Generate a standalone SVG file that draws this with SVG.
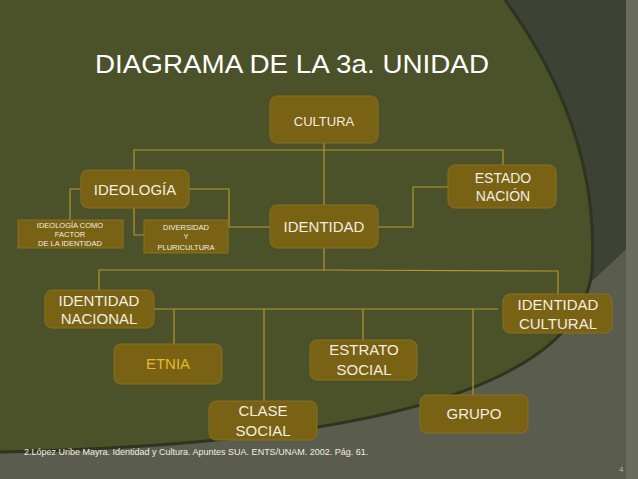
<svg xmlns="http://www.w3.org/2000/svg" width="638" height="479" viewBox="0 0 638 479">
<style>
.b{fill:#7a6214;stroke:#8a7020;stroke-width:1}
.t{font-family:"Liberation Sans",Arial,sans-serif;fill:#f2eee0;text-anchor:middle}
.c line,.c polyline{stroke:#b8952e;stroke-width:1.2;fill:none}
</style>
<rect width="638" height="479" fill="#5a5d4e"/>
<path d="M495,0 L638,0 L638,238 L540,330 Z" fill="#3d4235"/>
<rect x="626" y="0" width="12" height="479" fill="#6a6d5e"/>
<path d="M0,0 L505,0 Q600,130 592,270 Q575,440 0,452 Z" fill="#4b5229"/>
<path d="M505,0 Q600,130 592,270 Q575,440 0,452" fill="none" stroke="#2e3420" stroke-width="3"/>
<text x="292" y="73" class="t" font-size="26" textLength="394" lengthAdjust="spacingAndGlyphs" style="fill:#fff;font-family:'Liberation Sans Narrow','Liberation Sans',sans-serif">DIAGRAMA DE LA 3a. UNIDAD</text>
<g class="c">
<polyline points="324,143 324,205"/>
<polyline points="134,170 134,150 503,150 503,165"/>
<polyline points="81,189 70,189 70,220"/>
<polyline points="134,208 134,235 144,235"/>
<polyline points="189,189 229,189 229,227 270,227"/>
<polyline points="378,227 413,227 413,187 448,187"/>
<polyline points="324,248 324,270 99,270 99,290"/>
<polyline points="324,270 558,271 558,294"/>
<polyline points="154,309 498,309"/>
<polyline points="174,309 174,344"/>
<polyline points="264,309 264,401"/>
<polyline points="363,309 363,340"/>
<polyline points="473,309 473,395"/>
</g>
<g id="cultura"><rect class="b" x="270" y="96" width="108" height="47" rx="7"/><text class="t" x="324" y="126" font-size="13">CULTURA</text></g>
<g id="ideologia"><rect class="b" x="81" y="170" width="108" height="38" rx="7"/><text class="t" x="135" y="195" font-size="15">IDEOLOGÍA</text></g>
<g id="estado"><rect class="b" x="448" y="165" width="108" height="43" rx="7"/><text class="t" x="503" y="183" font-size="14">ESTADO</text><text class="t" x="503" y="201" font-size="14">NACIÓN</text></g>
<g id="identidad"><rect class="b" x="270" y="205" width="108" height="43" rx="7"/><text class="t" x="324" y="232" font-size="15">IDENTIDAD</text></g>
<g id="factor"><rect class="b" x="18" y="220" width="105" height="28"/><text class="t" x="70" y="228" font-size="7.5">IDEOLOGÍA COMO</text><text class="t" x="70" y="237" font-size="7.5">FACTOR</text><text class="t" x="70" y="246" font-size="7.5">DE LA IDENTIDAD</text></g>
<g id="diversidad"><rect class="b" x="144" y="220" width="84" height="33"/><text class="t" x="186" y="230" font-size="7.5">DIVERSIDAD</text><text class="t" x="186" y="239" font-size="7.5">Y</text><text class="t" x="186" y="250" font-size="7.5">PLURICULTURA</text></g>
<g id="nacional"><rect class="b" x="45" y="290" width="109" height="38" rx="7"/><text class="t" x="99" y="306" font-size="15">IDENTIDAD</text><text class="t" x="99" y="324" font-size="15">NACIONAL</text></g>
<g id="cultural"><rect class="b" x="503" y="294" width="109" height="39" rx="7"/><text class="t" x="558" y="310" font-size="15">IDENTIDAD</text><text class="t" x="558" y="329" font-size="15">CULTURAL</text></g>
<g id="etnia"><rect class="b" x="114" y="344" width="108" height="40" rx="7"/><text class="t" x="168" y="369" font-size="15" style="fill:#e2b82e">ETNIA</text></g>
<g id="estrato"><rect class="b" x="310" y="340" width="107" height="40" rx="7"/><text class="t" x="364" y="355" font-size="15">ESTRATO</text><text class="t" x="364" y="375" font-size="15">SOCIAL</text></g>
<g id="clase"><rect class="b" x="209" y="401" width="108" height="39" rx="7"/><text class="t" x="263" y="416" font-size="15">CLASE</text><text class="t" x="263" y="436" font-size="15">SOCIAL</text></g>
<g id="grupo"><rect class="b" x="420" y="395" width="108" height="38" rx="7"/><text class="t" x="474" y="419" font-size="15">GRUPO</text></g>
<text x="24" y="455" font-family="Liberation Sans,Arial,sans-serif" font-size="9" fill="#f2eee0">2.López Uribe Mayra. Identidad y Cultura. Apuntes SUA. ENTS/UNAM. 2002. Pág. 61.</text>
<text x="619" y="472" font-family="Liberation Sans,Arial,sans-serif" font-size="8" fill="#b8b8a0">4</text>
</svg>
